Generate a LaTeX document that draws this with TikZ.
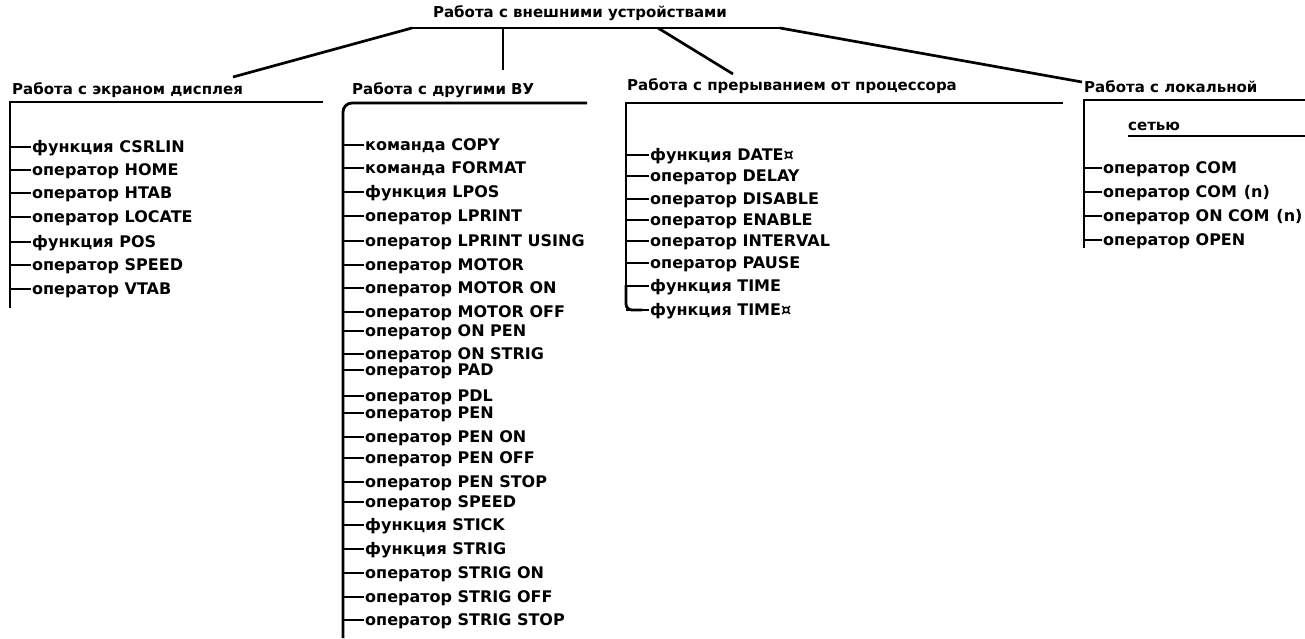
\documentclass[tikz,border=0pt]{standalone}
\usepackage{fontspec}
\setmainfont{DejaVu Sans}
\begin{document}
\begin{tikzpicture}[x=1pt,y=-1pt,
  item/.style={anchor=west,inner sep=0pt,font=\fontsize{16}{18}\selectfont\bfseries,text height=11.5pt,text depth=0pt},
  head/.style={anchor=west,inner sep=0pt,font=\fontsize{15}{17}\selectfont\bfseries,text height=11pt,text depth=0pt},
  spine/.style={line width=2.8pt},
  branch/.style={line width=2.7pt},
  tick/.style={line width=2pt}]
\useasboundingbox (0,0) rectangle (1305,638);
% title and top bar
\node[head,anchor=center] (title) at (580,12) {Работа с внешними устройствами};
\coordinate (jL) at (412,28);
\coordinate (jR) at (780,28);
\coordinate (j2) at (503,28);
\coordinate (j3) at (658,28);
\draw[branch] (jL) -- (jR);
% headings
\node[head] (h1) at (12,89) {Работа с экраном дисплея};
\node[head] (h2) at (352,89) {Работа с другими ВУ};
\node[head] (h3) at (627,85) {Работа с прерыванием от процессора};
\node[head] (h4) at (1084,87) {Работа с локальной};
\node[head] (h4b) at (1128,125) {сетью};
\coordinate (e1) at (233,77);
\coordinate (e2) at (503,70);
\coordinate (e3) at (733,74);
\coordinate (e4) at (1082,82);
\draw[branch] (jL) -- (e1);
\draw[branch] (j2) -- (e2);
\draw[branch] (j3) -- (e3);
\draw[branch] (jR) -- (e4);
% column 1
\coordinate (s1) at (10,102);
\draw[spine] (323,102) -- (s1) -- (10,308);
\foreach \y/\t [count=\i] in {147/функция CSRLIN,170/оператор HOME,193/оператор HTAB,217/оператор LOCATE,242/функция POS,265/оператор SPEED,289/оператор VTAB}{
  \node[item] (a\i) at (32,\y) {\t};
  \draw[tick] (a\i.west -| s1) -- ([xshift=-1pt]a\i.west);
}
% column 2
\coordinate (s2) at (343,103);
\draw[spine,rounded corners=9pt] (587,103) -- (s2) -- (343,638);
\foreach \y/\t [count=\i] in {145/команда COPY,168/команда FORMAT,192/функция LPOS,216/оператор LPRINT,241/оператор LPRINT USING,265/оператор MOTOR,288/оператор MOTOR ON,312/оператор MOTOR OFF,331/оператор ON PEN,354/оператор ON STRIG,370/оператор PAD,396/оператор PDL,413/оператор PEN,437/оператор PEN ON,458/оператор PEN OFF,482/оператор PEN STOP,502/оператор SPEED,525/функция STICK,549/функция STRIG,573/оператор STRIG ON,597/оператор STRIG OFF,620/оператор STRIG STOP}{
  \node[item] (b\i) at (365,\y) {\t};
  \draw[tick] (b\i.west -| s2) -- ([xshift=-1pt]b\i.west);
}
% column 3
\coordinate (s3) at (626,103);
\foreach \y/\t [count=\i] in {155/функция DATE¤,176/оператор DELAY,199/оператор DISABLE,220/оператор ENABLE,241/оператор INTERVAL,263/оператор PAUSE,286/функция TIME,310/функция TIME¤}{
  \node[item] (c\i) at (650,\y) {\t};
  \draw[tick] (c\i.west -| s3) -- ([xshift=-1pt]c\i.west);
}
\draw[spine] (1063,103) -- (s3) -- (626,290);
\draw[spine,rounded corners=6pt] (626,285) -- (c8.west -| s3) -- ([xshift=-8pt]c8.west);
% column 4
\coordinate (s4) at (1084,100);
\draw[spine] (1305,100) -- (s4) -- (1084,248);
\coordinate (u4) at (1128,136);
\draw[branch] (u4) -- (1305,136);
\foreach \y/\t [count=\i] in {168/оператор COM,192/оператор COM\hspace{7pt}(n),216/оператор ON COM\hspace{7pt}(n),240/оператор OPEN}{
  \node[item] (d\i) at (1103,\y) {\t};
  \draw[tick] (d\i.west -| s4) -- ([xshift=-1pt]d\i.west);
}
\end{tikzpicture}
\end{document}
